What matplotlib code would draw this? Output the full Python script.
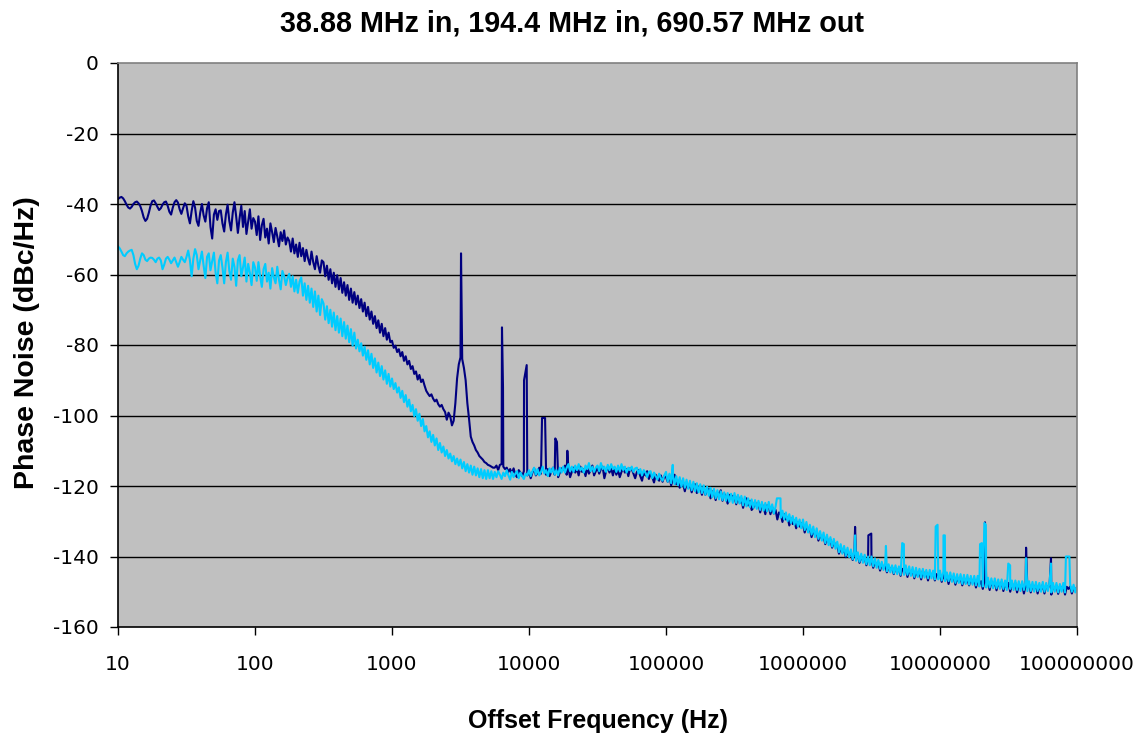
import numpy as np
import matplotlib
matplotlib.use("Agg")
import matplotlib.pyplot as plt
from matplotlib.ticker import FixedLocator, FixedFormatter, NullLocator

# ---------------- data ----------------
title = "38.88 MHz in, 194.4 MHz in, 690.57 MHz out"
x_label = "Offset Frequency (Hz)"
y_label = "Phase Noise (dBc/Hz)"
x_ticks = [1e1, 1e2, 1e3, 1e4, 1e5, 1e6, 1e7, 1e8]
x_tick_labels = ["10", "100", "1000", "10000", "100000", "1000000",
                 "10000000", "100000000"]
y_ticks = [0, -20, -40, -60, -80, -100, -120, -140, -160]
y_tick_labels = ["0", "-20", "-40", "-60", "-80", "-100", "-120", "-140", "-160"]

# sample grid: 10 Hz .. 100 MHz, 80 points per decade
freq_grid = np.logspace(1, 8, 561)

# dark (navy) trace, dBc/Hz at each grid frequency (20 values per 1/4 decade)
navy_db = [
    -38.6, -38.2, -38.0, -38.4, -39.2, -40.2, -41.0, -41.3, -40.8, -40.0, -39.5, -39.3, -39.8, -40.6, -42.0, -43.8, -44.8, -44.2, -42.5, -40.5,
    -39.2, -39.0, -39.8, -40.8, -41.7, -41.2, -40.2, -39.5, -39.3, -40.5, -42.2, -43.0, -41.0, -39.5, -38.9, -39.6, -41.5, -42.8, -41.2, -39.8,
    -40.5, -43.5, -45.5, -42.0, -39.2, -41.0, -44.8, -46.2, -42.5, -40.0, -43.2, -45.0, -41.2, -39.5, -46.5, -49.8, -43.0, -41.5, -44.5, -42.0,
    -41.8, -45.5, -47.8, -43.0, -40.2, -44.8, -47.5, -42.5, -39.5, -43.5, -48.2, -44.0, -40.5, -46.5, -42.0, -48.5, -45.0, -41.5, -47.0, -44.0,
    -45.0, -48.8, -43.5, -50.2, -46.0, -44.2, -49.5, -47.0, -51.2, -45.5, -48.0, -50.8, -46.8, -49.2, -52.0, -48.0, -50.5, -47.5, -51.5, -49.5,
    -50.5, -53.5, -49.8, -54.0, -51.5, -55.0, -51.0, -54.8, -52.5, -56.2, -53.0, -55.5, -57.2, -53.5, -56.5, -58.5, -54.8, -57.5, -59.5, -56.0,
    -56.5, -60.5, -57.5, -61.5, -58.5, -62.5, -59.5, -63.5, -60.2, -64.2, -61.0, -65.2, -62.2, -66.0, -63.0, -67.2, -64.0, -68.0, -65.0, -68.5,
    -66.0, -69.5, -67.0, -70.5, -68.0, -71.8, -69.2, -72.8, -70.5, -74.0, -71.8, -75.2, -73.0, -76.5, -74.0, -77.5, -75.2, -78.5, -76.5, -79.2,
    -78.8, -80.8, -80.2, -82.0, -81.2, -83.2, -82.0, -84.5, -83.2, -85.5, -84.5, -86.8, -86.0, -88.2, -87.5, -89.8, -88.5, -90.5, -89.8, -91.5,
    -93.0, -93.8, -94.5, -94.0, -95.2, -96.0, -95.5, -96.8, -97.5, -97.0, -98.2, -99.0, -101.2, -99.2, -100.2, -102.8, -101.5, -96.5, -89.5, -85.5,
    -83.5, -84.0, -86.5, -90.0, -96.5, -101.0, -106.0, -107.5, -108.5, -109.8, -110.5, -111.5, -112.0, -112.5, -113.2, -113.5, -114.0, -114.2, -114.5, -114.8,
    -114.8, -114.2, -115.5, -114.0, -113.8, -114.5, -115.2, -114.8, -116.0, -115.2, -116.5, -115.0, -116.8, -117.5, -115.5, -116.2, -117.2, -115.8, -116.5, -117.0,
    -116.0, -117.8, -116.2, -115.0, -117.0, -116.2, -114.8, -116.5, -117.5, -115.5, -116.8, -115.2, -117.2, -116.0, -114.8, -116.8, -115.5, -117.5, -116.2, -115.0,
    -115.5, -114.2, -116.8, -115.0, -117.5, -116.0, -114.8, -116.2, -115.0, -117.0, -114.5, -116.0, -115.2, -117.2, -114.8, -116.5, -115.5, -114.2, -117.0, -115.8,
    -114.8, -116.5, -115.2, -114.5, -117.8, -115.8, -114.6, -116.2, -115.0, -117.0, -114.8, -116.8, -115.5, -117.5, -116.0, -114.8, -116.2, -115.2, -117.2, -115.0,
    -115.2, -116.5, -117.8, -116.0, -115.5, -117.2, -118.5, -116.2, -117.0, -115.8, -118.0, -116.5, -117.5, -119.0, -116.8, -117.8, -118.5, -117.0, -118.8, -117.2,
    -117.5, -118.8, -117.0, -119.8, -118.2, -116.8, -119.5, -118.5, -120.5, -118.8, -119.5, -121.5, -119.2, -120.5, -119.8, -121.8, -120.0, -119.5, -122.0, -120.2,
    -120.5, -122.5, -120.2, -122.5, -121.0, -120.8, -123.5, -121.5, -122.0, -124.0, -121.8, -122.5, -121.2, -124.2, -122.2, -123.0, -125.0, -122.5, -123.5, -122.8,
    -123.0, -125.2, -122.8, -124.8, -123.5, -126.2, -124.0, -123.5, -125.5, -124.2, -126.8, -126.2, -124.5, -125.8, -124.8, -127.5, -125.2, -126.0, -128.0, -125.5,
    -125.8, -128.0, -126.0, -127.8, -126.8, -129.5, -127.5, -128.0, -130.2, -128.0, -129.5, -128.8, -131.2, -129.2, -130.8, -129.8, -132.0, -130.2, -131.5, -130.5,
    -131.0, -133.2, -131.2, -132.8, -132.0, -134.5, -132.5, -134.0, -133.2, -135.5, -133.8, -135.0, -134.2, -136.5, -134.8, -136.0, -135.2, -137.5, -135.8, -137.0,
    -136.8, -139.2, -137.5, -138.8, -138.0, -140.2, -138.5, -139.8, -138.8, -141.0, -139.2, -140.5, -139.5, -141.8, -140.0, -141.2, -140.2, -142.5, -140.8, -141.8,
    -141.0, -143.2, -141.5, -142.5, -141.8, -144.0, -142.2, -143.2, -142.5, -144.5, -142.8, -143.8, -143.0, -145.0, -143.2, -144.2, -143.5, -145.5, -143.5, -144.2,
    -143.5, -145.8, -144.0, -145.0, -143.8, -146.2, -144.2, -145.5, -144.5, -146.5, -144.0, -145.5, -144.5, -146.8, -144.8, -145.5, -144.5, -146.8, -145.0, -146.0,
    -145.0, -147.2, -145.2, -146.5, -145.5, -147.8, -145.5, -146.5, -145.8, -148.0, -146.0, -147.2, -146.0, -148.2, -146.2, -147.5, -146.5, -148.2, -146.2, -147.5,
    -146.5, -148.8, -146.8, -148.0, -147.0, -149.2, -146.8, -148.2, -147.2, -149.5, -147.0, -148.5, -147.2, -149.6, -147.5, -148.6, -147.2, -149.8, -147.8, -148.8,
    -147.5, -150.0, -147.8, -148.5, -147.5, -150.2, -148.0, -148.8, -147.8, -150.5, -148.2, -148.8, -147.8, -150.2, -148.2, -149.2, -148.0, -150.5, -148.5, -149.5,
    -148.0, -150.5, -148.2, -149.0, -148.0, -150.8, -148.5, -149.2, -148.2, -150.6, -148.5, -149.0, -148.2, -150.8, -148.6, -149.2, -148.5, -150.5, -148.8, -149.4,
    -148.8,
]

# light (cyan) trace, dBc/Hz at each grid frequency (20 values per 1/4 decade)
cyan_db = [
    -52.0, -52.6, -53.5, -54.5, -54.8, -54.0, -53.5, -53.2, -53.0, -54.5, -57.0, -58.5, -57.5, -55.5, -54.0, -54.5, -55.8, -56.2, -55.5, -55.2,
    -55.3, -55.8, -56.5, -55.5, -55.2, -56.0, -58.5, -57.2, -55.5, -55.0, -55.8, -56.8, -56.0, -55.2, -56.5, -57.8, -56.5, -55.0, -55.8, -56.5,
    -55.0, -53.2, -56.0, -60.5, -55.5, -52.8, -54.5, -58.5, -56.0, -53.5, -57.5, -61.0, -55.0, -54.0, -58.8, -56.2, -53.8, -59.5, -62.5, -56.0,
    -54.5, -58.0, -62.5, -56.5, -53.8, -59.0, -61.5, -55.5, -57.8, -63.2, -56.0, -54.5, -60.5, -58.0, -55.2, -62.0, -57.0, -59.5, -63.0, -56.5,
    -58.0, -61.8, -56.5, -60.5, -63.5, -58.5, -57.0, -62.0, -59.5, -64.0, -58.2, -60.8, -62.5, -57.8, -61.5, -64.2, -59.0, -60.5, -63.0, -61.0,
    -59.8, -63.5, -60.5, -64.8, -61.5, -65.2, -62.0, -60.8, -66.0, -62.5, -67.2, -63.2, -68.0, -64.0, -69.2, -64.8, -70.5, -66.0, -71.5, -67.0,
    -68.2, -72.8, -69.0, -73.8, -70.0, -74.8, -70.8, -75.8, -71.8, -76.5, -72.5, -77.5, -73.5, -78.2, -74.5, -79.2, -75.5, -80.2, -76.5, -81.0,
    -78.5, -81.8, -79.5, -83.0, -80.5, -84.2, -81.5, -85.5, -82.5, -86.5, -83.8, -87.8, -85.0, -88.8, -86.0, -89.8, -87.2, -91.0, -88.2, -91.8,
    -89.5, -92.5, -90.8, -93.5, -92.0, -95.0, -93.0, -96.2, -94.2, -97.5, -95.5, -98.8, -97.0, -100.2, -98.2, -101.5, -99.5, -103.0, -101.0, -104.5,
    -103.0, -106.2, -104.5, -107.5, -105.5, -108.5, -106.5, -109.8, -107.8, -110.5, -108.8, -111.5, -109.8, -112.2, -110.8, -113.0, -111.5, -113.8, -112.2, -114.2,
    -112.5, -115.0, -113.2, -115.8, -113.8, -116.2, -114.2, -116.8, -114.5, -117.0, -115.0, -117.5, -115.2, -117.8, -115.5, -118.0, -115.5, -117.8, -115.8, -118.0,
    -116.0, -117.5, -115.8, -116.8, -118.0, -116.2, -117.2, -115.5, -117.0, -118.2, -116.0, -117.5, -116.5, -115.8, -117.8, -116.2, -117.2, -118.0, -116.5, -117.0,
    -115.5, -117.2, -115.8, -114.8, -116.8, -115.2, -117.0, -116.0, -114.5, -116.5, -115.5, -117.2, -115.0, -116.2, -114.8, -116.8, -115.5, -117.0, -114.8, -116.2,
    -114.5, -116.2, -114.8, -113.8, -115.8, -114.5, -116.0, -114.2, -115.5, -113.8, -115.5, -114.8, -116.2, -114.2, -115.2, -113.5, -115.8, -114.5, -116.0, -114.8,
    -114.2, -115.8, -113.5, -115.2, -114.5, -116.0, -114.0, -115.5, -113.8, -115.2, -114.5, -116.0, -114.2, -115.8, -113.8, -115.5, -114.5, -116.2, -114.8, -115.5,
    -114.5, -116.0, -115.0, -114.8, -116.5, -115.2, -117.0, -115.5, -116.2, -117.5, -116.0, -115.8, -117.8, -116.2, -117.2, -118.2, -116.5, -117.8, -118.5, -117.0,
    -116.0, -118.8, -116.5, -119.2, -116.8, -119.5, -117.2, -119.8, -117.5, -120.2, -117.8, -120.5, -118.2, -120.8, -118.5, -121.2, -118.8, -121.5, -119.2, -121.8,
    -119.5, -122.0, -119.8, -122.5, -120.2, -122.8, -120.5, -123.2, -120.8, -123.5, -121.2, -123.8, -121.5, -124.0, -121.8, -124.2, -122.0, -124.5, -122.2, -124.8,
    -122.0, -124.8, -122.5, -125.0, -122.8, -125.5, -123.0, -125.8, -123.5, -126.0, -123.8, -126.2, -124.0, -126.5, -124.2, -126.8, -124.5, -127.0, -124.8, -127.2,
    -124.5, -127.2, -125.2, -127.8, -125.8, -128.5, -126.5, -129.0, -127.0, -129.5, -127.5, -130.0, -128.0, -130.5, -128.5, -131.0, -129.0, -131.5, -129.5, -132.0,
    -129.5, -132.5, -130.2, -133.2, -131.0, -133.8, -131.5, -134.5, -132.0, -135.0, -132.8, -135.5, -133.2, -136.2, -133.8, -136.8, -134.5, -137.2, -135.0, -137.8,
    -135.8, -138.8, -136.5, -139.2, -137.0, -139.8, -137.5, -140.2, -138.0, -140.8, -138.5, -141.2, -138.8, -141.5, -139.2, -141.8, -139.5, -142.2, -140.0, -142.5,
    -140.0, -142.8, -140.5, -143.2, -141.0, -143.5, -141.5, -143.8, -141.8, -144.2, -142.2, -144.5, -142.5, -144.8, -142.5, -145.0, -142.8, -145.2, -143.0, -145.2,
    -142.5, -145.2, -142.8, -145.5, -143.0, -145.8, -143.2, -145.8, -143.5, -146.0, -143.5, -146.0, -143.8, -146.2, -143.8, -146.2, -144.0, -146.5, -144.0, -146.5,
    -144.0, -146.8, -144.2, -147.0, -144.5, -147.0, -144.5, -147.2, -144.8, -147.5, -145.0, -147.5, -145.0, -147.8, -145.2, -147.8, -145.2, -148.0, -145.5, -148.0,
    -145.5, -148.2, -145.5, -148.5, -145.8, -148.5, -146.0, -148.8, -146.0, -148.8, -146.2, -149.0, -146.2, -149.0, -146.5, -149.2, -146.5, -149.2, -146.8, -149.5,
    -146.5, -149.2, -146.8, -149.5, -146.8, -149.5, -147.0, -149.8, -147.0, -149.5, -147.2, -149.8, -147.0, -149.8, -147.2, -150.0, -147.2, -149.8, -147.5, -150.0,
    -147.2, -150.0, -147.5, -149.8, -147.2, -150.2, -147.5, -150.0, -147.5, -150.2, -147.8, -150.0, -147.5, -150.2, -147.8, -150.2, -147.8, -150.0, -148.0, -150.2,
    -148.5,
]

# discrete spurs (each entry: frequencies in Hz and levels in dBc/Hz)
navy_spur_freqs = [[3190], [6350, 6460], [9200, 9620], [12450, 13100],
                   [15560, 16000], [19050], [2.40e6], [3.0e6, 3.15e6],
                   [21.3e6], [42.5e6], [64.6e6]]
navy_spur_dbs = [[-54.0], [-75.0, -92.0], [-90.0, -85.7], [-100.7, -100.7],
                 [-106.5, -107.5], [-110.0], [-131.6], [-134.0, -133.5],
                 [-130.3], [-137.5], [-140.5]]

cyan_spur_freqs = [[112000], [645e3, 685e3], [2.40e6], [4.03e6],
                   [5.30e6, 5.45e6], [9.3e6, 9.6e6], [10.6e6, 10.85e6],
                   [19.6e6, 20.2e6], [21.1e6, 21.6e6], [31.5e6, 32.5e6],
                   [42.5e6], [64.6e6], [83e6, 88e6]]
cyan_spur_dbs = [[-114.0], [-123.5, -123.5], [-134.0], [-137.0],
                 [-136.2, -136.5], [-131.5, -131.0], [-134.0, -134.0],
                 [-136.5, -136.2], [-130.5, -131.0], [-142.0, -142.5],
                 [-140.5], [-142.0], [-140.0, -140.0]]

navy_color = "#000080"
cyan_color = "#00CCFF"


def merge_trace(grid_f, grid_db, spur_f, spur_db):
    f = np.asarray(grid_f, dtype=float)
    d = np.asarray(grid_db, dtype=float)
    n = min(len(f), len(d))
    f, d = f[:n], d[:n]
    keep = np.ones(n, dtype=bool)
    for sf in spur_f:
        keep &= ~((f >= min(sf)) & (f <= max(sf)))
    all_f = np.concatenate([f[keep]] + [np.asarray(s, float) for s in spur_f])
    all_d = np.concatenate([d[keep]] + [np.asarray(s, float) for s in spur_db])
    order = np.argsort(all_f)
    return all_f[order], all_d[order]


nf, nd = merge_trace(freq_grid, navy_db, navy_spur_freqs, navy_spur_dbs)
cf, cd = merge_trace(freq_grid, cyan_db, cyan_spur_freqs, cyan_spur_dbs)

# ---------------- figure ----------------
W, H = 1144, 736
fig = plt.figure(figsize=(W / 100, H / 100), dpi=100)
fig.patch.set_facecolor("white")
L, R, T, B = 118, 1077, 63, 627
ax = fig.add_axes([L / W, 1 - B / H, (R - L) / W, (B - T) / H])
ax.set_facecolor("#C0C0C0")

ax.set_xscale("log")
ax.set_xlim(1e1, 1e8)
ax.set_ylim(-160, 0)

for yv in y_ticks[1:-1]:
    ax.axhline(yv, color="black", lw=1.0, zorder=1)

ax.plot(nf, nd, color=navy_color, lw=1.5, zorder=2)
ax.plot(cf, cd, color=cyan_color, lw=1.5, zorder=3)

ax.xaxis.set_major_locator(FixedLocator(x_ticks))
ax.xaxis.set_major_formatter(FixedFormatter(x_tick_labels))
ax.xaxis.set_minor_locator(NullLocator())
ax.yaxis.set_major_locator(FixedLocator(y_ticks))
ax.yaxis.set_major_formatter(FixedFormatter(y_tick_labels))
ax.yaxis.set_minor_locator(NullLocator())

ax.tick_params(axis="both", direction="out", length=6, width=1, color="black")
ax.tick_params(axis="x", pad=14)
ax.tick_params(axis="y", pad=8)
for lab in ax.get_xticklabels() + ax.get_yticklabels():
    lab.set_fontfamily("DejaVu Sans")
    lab.set_fontsize(14.5)

ax.spines["left"].set_color("black")
ax.spines["bottom"].set_color("black")
ax.spines["top"].set_color("#808080")
ax.spines["right"].set_color("#808080")
for s in ax.spines.values():
    s.set_linewidth(1.2)
    s.set_zorder(4)

fig.text(0.5, 1 - 32 / H, title, ha="center", va="baseline",
         family="Liberation Sans", weight="bold", fontsize=20.7)
fig.text(597.5 / W, 1 - 728 / H, x_label, ha="center", va="baseline",
         family="Liberation Sans", weight="bold", fontsize=18)
fig.text(27 / W, 1 - 343 / H, y_label, ha="center", va="center",
         rotation=90, family="Liberation Sans", weight="bold", fontsize=20.5)

fig.savefig("out.png", dpi=100, facecolor="white")
